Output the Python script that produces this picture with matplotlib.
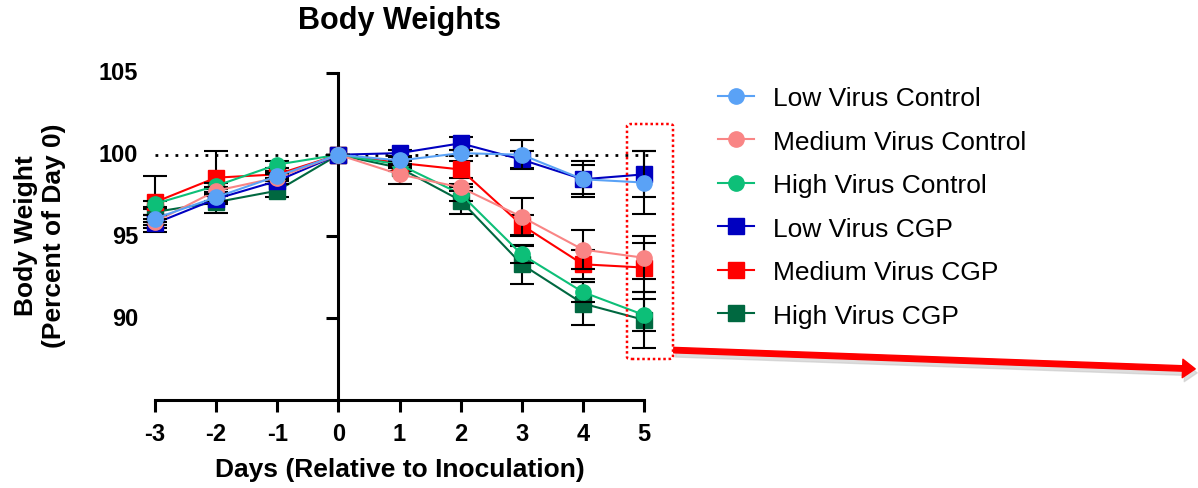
import numpy as np
import matplotlib
matplotlib.use('Agg')
import matplotlib.pyplot as plt
from matplotlib.patches import FancyArrowPatch, FancyBboxPatch

plt.rcParams['font.family'] = ['Liberation Sans', 'DejaVu Sans']

# data (mean and SEM, percent of day 0)
days = [-3, -2, -1, 0, 1, 2, 3, 4, 5]

low_ctrl = [96.1, 97.4, 98.7, 100, 99.65, 100.1, 100.0, 98.5, 98.3]
low_ctrl_err = [0.2, 0.2, 0.2, 0, 0.2, 0.2, 0.9, 1.1, 1.9]
med_ctrl = [95.9, 97.8, 98.6, 100, 98.8, 98.0, 96.2, 94.2, 93.7]
med_ctrl_err = [0.2, 0.2, 0.2, 0, 0.6, 0.2, 1.15, 1.2, 1.3]
high_ctrl = [97.0, 98.1, 99.4, 100, 99.4, 97.6, 93.9, 91.6, 90.2]
high_ctrl_err = [0.2, 0.2, 0.2, 0, 0.2, 0.4, 0.5, 0.6, 1.0]
low_cgp = [95.8, 97.3, 98.4, 100, 100.1, 100.7, 99.7, 98.5, 98.8]
low_cgp_err = [0.5, 0.2, 0.2, 0, 0.2, 0.4, 0.5, 0.9, 1.4]
med_cgp = [97.1, 98.6, 98.8, 100, 99.5, 99.1, 95.7, 93.3, 93.1]
med_cgp_err = [1.6, 1.6, 0.2, 0, 0.2, 0.5, 0.6, 0.9, 1.5]
high_cgp = [96.5, 97.1, 97.8, 100, 99.2, 97.2, 93.3, 90.9, 89.9]
high_cgp_err = [0.2, 0.65, 0.4, 0, 0.2, 0.8, 1.2, 1.3, 1.7]

labels = ['Low Virus Control', 'Medium Virus Control', 'High Virus Control',
          'Low Virus CGP', 'Medium Virus CGP', 'High Virus CGP']
colors = ['#5aa2f6', '#f98585', '#0dbf78', '#0000c0', '#ff0000', '#006840']
markers = ['o', 'o', 'o', 's', 's', 's']
means = [low_ctrl, med_ctrl, high_ctrl, low_cgp, med_cgp, high_cgp]
errs = [low_ctrl_err, med_ctrl_err, high_ctrl_err, low_cgp_err, med_cgp_err, high_cgp_err]

W, H = 1198, 489
fig = plt.figure(figsize=(W/100, H/100), dpi=100)
ax = fig.add_axes([155/W, 1-401/H, (644-155)/W, (401-74)/H])
ax.set_xlim(-3, 5)
ax.set_ylim(85, 105)

# reference line at 100
ax.plot([-3, 5.15], [100, 100], color='black', lw=2, ls=(0, (1, 2.6)),
        clip_on=False, zorder=1)

# draw CGP first, controls on top
handles = {}
order = [5, 4, 3, 2, 1, 0]
for k, i in enumerate(order):
    z = 3 + k
    eb = ax.errorbar(days, means[i], yerr=errs[i], color=colors[i], marker=markers[i],
                     ms=11, lw=1.5, ecolor='black', elinewidth=1.5, capsize=8.5,
                     capthick=1.5, zorder=z, clip_on=False, label=labels[i])
    for a in eb.lines[1] + eb.lines[2]:
        a.set_clip_on(False)
    handles[i] = eb.lines[0]

for s in ['top', 'right']:
    ax.spines[s].set_visible(False)
ax.spines['left'].set_position(('data', 0))
for s in ['left', 'bottom']:
    ax.spines[s].set_linewidth(2.2)

ax.set_xticks(days)
ax.set_xticklabels([str(d) for d in days], fontsize=17, fontweight='bold')
ax.set_yticks([90, 95, 100, 105])
ax.set_yticklabels([])
ax.tick_params(axis='both', length=8.6, width=2.2, direction='out')
ax.tick_params(axis='x', pad=7)

for v in [90, 95, 100, 105]:
    ax.text(-3.28, v, str(v), ha='right', va='center', fontsize=17,
            fontweight='bold', clip_on=False)

fig.text(400/W, 1-21/H, 'Body Weights', ha='center', va='center',
         fontsize=22, fontweight='bold')
fig.text(400/W, 1-470/H, 'Days (Relative to Inoculation)', ha='center',
         va='center', fontsize=19, fontweight='bold')
fig.text(40/W, 1-236/H, 'Body Weight\n(Percent of Day 0)', ha='center',
         va='center', rotation=90, fontsize=19, fontweight='bold', linespacing=1.2)

leg = fig.legend([handles[i] for i in range(6)], labels, loc='upper left',
                 bbox_to_anchor=(718/W, 1-87/H), frameon=False, fontsize=19,
                 handlelength=1.35, handletextpad=0.75, labelspacing=0.74,
                 borderpad=0, borderaxespad=0, markerscale=1.0)

# dotted red box around day 5
box = FancyBboxPatch((627/W, 1-360/H), 46/W, 235/H,
                     boxstyle='round,pad=0,rounding_size=0.004',
                     transform=fig.transFigure, fill=False, edgecolor='red',
                     lw=1.8, ls=(0, (1, 1.1)))
fig.patches.append(box)

# red arrow to the right
shadow = FancyArrowPatch((673/W, 1-355/H), (1200/W, 1-374/H),
                         transform=fig.transFigure, color='#c8c8c8', alpha=0.6,
                         arrowstyle='simple,head_width=0.95,head_length=0.65,tail_width=0.3',
                         mutation_scale=14)
fig.patches.append(shadow)
arrow = FancyArrowPatch((671/W, 1-351/H), (1198/W, 1-370/H),
                        transform=fig.transFigure, color='red',
                        arrowstyle='simple,head_width=0.95,head_length=0.65,tail_width=0.28',
                        mutation_scale=14)
fig.patches.append(arrow)

fig.savefig('out.png', dpi=100)
